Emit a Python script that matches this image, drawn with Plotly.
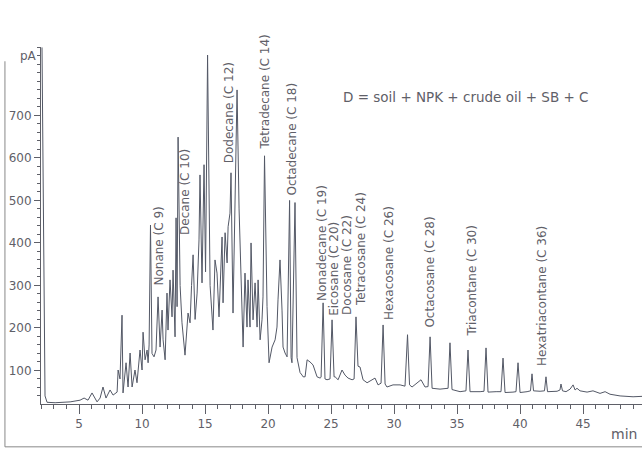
import plotly.graph_objects as go

# Retention time (min) and detector signal (pA)
time_min = [
    2.06, 2.30, 2.46, 3.10, 4.29, 5.08, 5.40, 5.71, 6.03, 6.43, 6.67, 6.90, 7.14, 7.46, 7.70,
    8.02, 8.10, 8.25, 8.41, 8.49, 8.73, 8.89, 9.05, 9.21, 9.44, 9.60, 9.84, 10.00, 10.08, 10.24,
    10.40, 10.48, 10.56, 10.67, 10.79, 10.95, 11.11, 11.27, 11.43, 11.59, 11.67, 11.83, 11.98,
    12.06, 12.22, 12.38, 12.46, 12.62, 12.70, 12.78, 12.86, 13.02, 13.17, 13.41, 13.65, 13.81,
    13.93, 14.05, 14.21, 14.37, 14.52, 14.60, 14.76, 14.92, 15.04, 15.20, 15.40, 15.63, 15.79,
    15.95, 16.11, 16.35, 16.43, 16.59, 16.75, 16.83, 16.98, 17.06, 17.22, 17.54, 17.70, 18.02,
    18.17, 18.33, 18.41, 18.57, 18.65, 18.81, 18.97, 19.13, 19.21, 19.37, 19.52, 19.60, 19.72,
    19.92, 20.08, 20.32, 20.56, 20.71, 20.79, 20.95, 21.11, 21.19, 21.35, 21.51, 21.71, 21.83,
    21.90, 22.14, 22.30, 22.54, 22.70, 22.78, 22.94, 23.10, 23.33, 23.57, 23.89, 24.13, 24.21,
    24.37, 24.52, 24.68, 24.92, 25.08, 25.24, 25.32, 25.56, 25.87, 26.11, 26.35, 26.67, 26.83,
    26.98, 27.14, 27.30, 27.54, 27.86, 28.25, 28.49, 28.73, 28.97, 29.13, 29.29, 29.44, 29.92,
    30.48, 30.87, 31.07, 31.23, 31.43, 31.90, 32.14, 32.46, 32.70, 32.86, 33.02, 33.65, 34.29,
    34.44, 34.60, 35.24, 35.71, 35.87, 36.03, 36.83, 37.14, 37.30, 37.46, 38.10, 38.49, 38.65,
    38.81, 39.44, 39.68, 39.84, 40.00, 40.56, 40.83, 40.95, 41.07, 41.59, 41.94, 42.06, 42.18,
    42.94, 43.17, 43.25, 43.37, 43.65, 43.97, 44.21, 44.37, 44.52, 44.76, 45.32, 45.79, 46.35,
    46.75, 47.14, 47.94, 48.97, 49.68,
]
signal_pA = [
    860, 40, 25, 24, 26, 30, 35, 30, 47, 26, 35, 61, 35, 54, 42,
    49, 101, 80, 230, 47, 118, 61, 141, 61, 101, 71, 148, 101, 190, 125,
    148, 118, 160, 442, 140, 132, 148, 273, 155, 242, 172, 125, 282,
    195, 313, 226, 336, 179, 459, 250, 649, 300, 212, 136, 235, 212,
    300, 372, 220, 282, 407, 560, 306, 584, 332, 842, 300, 195, 360,
    329, 226, 414, 259, 424, 353, 438, 470, 565, 235, 760, 480, 155,
    329, 202, 313, 202, 400, 219, 306, 202, 313, 172, 219, 273, 605,
    250, 118, 155, 172, 202, 266, 360, 242, 155, 141, 132, 500, 130,
    118, 495, 130, 95, 89, 85, 85, 125, 120, 113, 85, 82, 84,
    259, 80, 78, 80, 219, 85, 85, 78, 101, 89, 82, 78, 80,
    226, 110, 108, 78, 71, 78, 82, 66, 70, 207, 68, 61, 66,
    66, 63, 184, 66, 61, 72, 78, 61, 62, 179, 58, 56, 58,
    165, 55, 50, 52, 148, 50, 50, 51, 153, 49, 50, 50, 129,
    48, 49, 50, 118, 48, 50, 52, 92, 52, 51, 52, 85, 50,
    51, 54, 68, 52, 50, 56, 66, 54, 58, 52, 49, 52, 46,
    50, 44, 40, 38, 39,
]

# Compound labels: text, retention time (min), signal at label foot (pA)
label_text = ["Nonane (C 9)", "Decane (C 10)", "Dodecane (C 12)", "Tetradecane (C 14)",
              "Octadecane (C 18)", "Nonadecane (C 19)", "Eicosane (C 20)", "Docosane (C 22)",
              "Tetracosane (C 24)", "Hexacosane (C 26)", "Octacosane (C 28)",
              "Triacontane (C 30)", "Hexatriacontane (C 36)"]
label_time = [11.35, 13.41, 16.90, 19.76, 21.90, 24.29, 25.24, 26.27, 27.38, 29.60, 32.78, 36.19, 41.75]
label_foot = [294, 414, 584, 614, 508, 259, 224, 226, 247, 214, 195, 174, 106]

x_ticks = [5, 10, 15, 20, 25, 30, 35, 40, 45]
y_ticks = [100, 200, 300, 400, 500, 600, 700]

ink = "#5f6068"
font_family = "DejaVu Sans"

fig = go.Figure()
fig.add_trace(go.Scatter(x=time_min, y=signal_pA, mode="lines",
                         line=dict(color="#535866", width=1), hoverinfo="skip"))

for txt, t, v in zip(label_text, label_time, label_foot):
    fig.add_annotation(x=t, y=v, text=txt, textangle=-90, showarrow=False,
                       xanchor="center", yanchor="bottom",
                       font=dict(family=font_family, size=12, color=ink))

fig.add_annotation(xref="paper", yref="paper", x=0.707, y=0.86,
                   text="D = soil + NPK + crude oil + SB + C", showarrow=False,
                   xanchor="center", yanchor="middle",
                   font=dict(family=font_family, size=13.5, color=ink))
fig.add_annotation(xref="paper", yref="paper", x=0.995, y=-0.085,
                   text="min", showarrow=False, xanchor="right", yanchor="middle",
                   font=dict(family=font_family, size=14, color=ink))
fig.add_annotation(xref="paper", yref="paper", x=-0.003, y=0.975,
                   text="pA", showarrow=False, xanchor="right", yanchor="middle",
                   font=dict(family=font_family, size=12, color=ink))

# scanned page frame
fig.add_shape(type="line", xref="paper", yref="paper", x0=-0.06, x1=-0.06, y0=-0.12, y1=0.96,
              line=dict(color="#888", width=1))
fig.add_shape(type="line", xref="paper", yref="paper", x0=-0.06, x1=1.0, y0=-0.12, y1=-0.12,
              line=dict(color="#888", width=1))

fig.update_layout(
    width=642, height=450,
    margin=dict(l=41, r=0, t=47, b=46),
    paper_bgcolor="white", plot_bgcolor="white",
    showlegend=False,
    xaxis=dict(range=[1.98, 49.68], tickvals=x_ticks, ticktext=[str(v) for v in x_ticks],
               ticks="outside", ticklen=9, tickcolor=ink, showline=True, linecolor=ink,
               linewidth=1, showgrid=False, zeroline=False,
               tickfont=dict(family=font_family, size=12, color=ink),
               minor=dict(dtick=1, tick0=0, ticks="outside", ticklen=4, tickcolor=ink)),
    yaxis=dict(range=[21, 861], tickvals=y_ticks, ticktext=[str(v) for v in y_ticks],
               ticks="outside", ticklen=6, tickcolor=ink, showline=True, linecolor=ink,
               linewidth=1, showgrid=False, zeroline=False,
               tickfont=dict(family=font_family, size=12, color=ink),
               minor=dict(dtick=20, tick0=0, ticks="outside", ticklen=3, tickcolor=ink)),
)

fig.write_html("out.html", config={"displayModeBar": False},
               post_script="document.body.style.margin='0';")
